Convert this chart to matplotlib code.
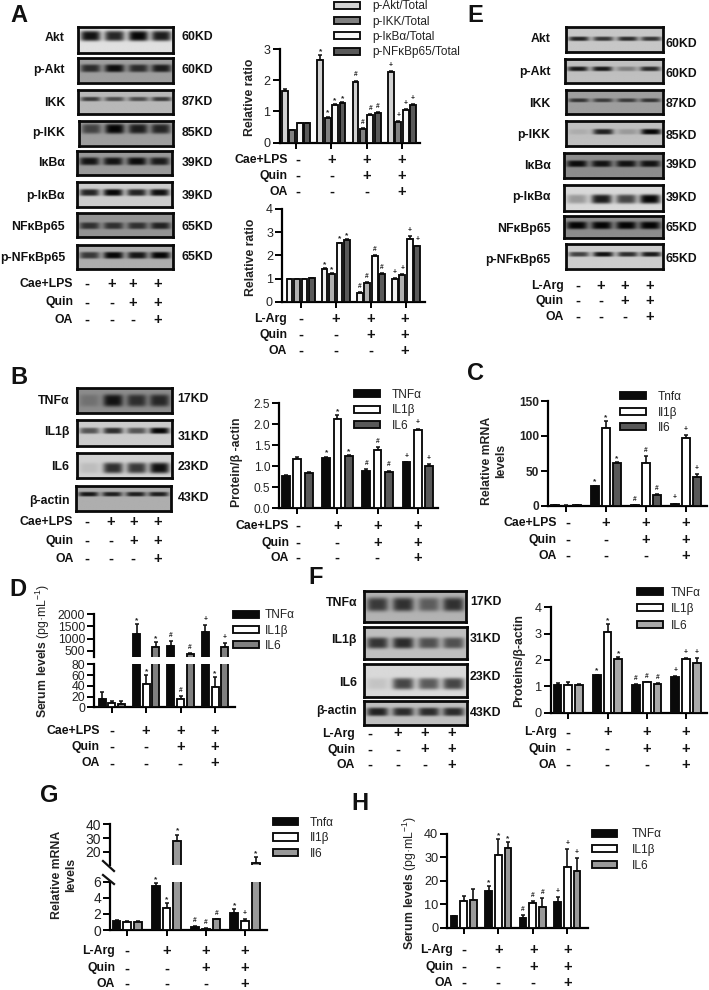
import numpy as np
import matplotlib
matplotlib.use("Agg")
import matplotlib.pyplot as plt
from matplotlib.lines import Line2D

plt.rcParams['font.family'] = ['Liberation Sans', 'DejaVu Sans']
plt.rcParams['mathtext.fontset'] = 'custom'
plt.rcParams['mathtext.rm'] = 'Liberation Sans'
plt.rcParams['mathtext.bf'] = 'Liberation Sans:bold'
plt.rcParams['mathtext.default'] = 'regular'
plt.rcParams['axes.linewidth'] = 1.5

W, H = 709, 990

# ---------------- treatment rows
STATE_1 = [0, 1, 1, 1]
STATE_2 = [0, 0, 1, 1]
STATE_3 = [0, 0, 0, 1]
CAE = ["Cae+LPS", "Quin", "OA"]
ARG = ["L-Arg", "Quin", "OA"]

# ---------------- panel A top
A1_LABELS = ["p-Akt/Total", "p-IKK/Total", "p-IκBα/Total", "p-NFκBp65/Total"]
A1_V = [[1.65, 2.65, 1.95, 2.25], [0.40, 0.80, 0.45, 0.65], [0.63, 1.22, 0.90, 1.05], [0.63, 1.28, 0.95, 1.20]]
A1_E = [[0.08, 0.15, 0.04, 0.05], [0.02, 0.03, 0.02, 0.03], [0.01, 0.02, 0.03, 0.03], [0.01, 0.02, 0.02, 0.03]]
A1_M = ["    ", "****", "####", "++++"]
# ---------------- panel A bottom
A2_V = [[1.00, 1.43, 0.40, 1.00], [1.00, 1.22, 0.83, 1.18], [1.00, 2.52, 1.98, 2.70], [1.02, 2.65, 1.22, 2.40]]
A2_E = [[0.01, 0.03, 0.03, 0.05], [0.01, 0.03, 0.03, 0.03], [0.01, 0.03, 0.04, 0.15], [0.01, 0.04, 0.03, 0.03]]
A2_M = ["    ", "****", "####", "++++"]
# ---------------- panel B
B_LABELS = ["TNFα", "IL1β", "IL6"]
B_V = [[0.78, 1.20, 0.90, 1.10], [1.18, 2.12, 1.40, 1.87], [0.84, 1.25, 0.87, 1.00]]
B_E = [[0.02, 0.03, 0.03, 0.01], [0.04, 0.09, 0.07, 0.03], [0.03, 0.02, 0.03, 0.05]]
B_M = ["   ", "***", "###", "+++"]
# ---------------- panel C
C_LABELS = ["Tnfα", "Il1β", "Il6"]
C_V = [[1.0, 28, 1.5, 3], [0.7, 111, 61, 97], [1.0, 61, 15, 41]]
C_E = [[0.2, 1, 0.3, 0.5], [0.2, 10, 10, 5], [0.2, 2, 2, 4]]
C_M = ["   ", "***", "###", "+++"]
# ---------------- panel D
D_V = [[16, 1200, 680, 1270], [8, 43, 16, 38], [6, 650, 380, 640]]
D_E = [[12, 400, 200, 300], [4, 17, 5, 18], [5, 200, 40, 190]]
D_M = ["   ", "***", "###", "+*+"]
# ---------------- panel F
F_V = [[1.07, 1.43, 1.05, 1.37], [1.07, 3.07, 1.15, 2.05], [1.07, 2.05, 1.10, 1.87]]
F_E = [[0.04, 0.01, 0.05, 0.03], [0.08, 0.30, 0.02, 0.02], [0.03, 0.05, 0.03, 0.22]]
F_M = ["   ", "***", "###", "+++"]
# ---------------- panel G
G_V = [[1.10, 5.5, 0.35, 2.05], [1.05, 2.7, 0.15, 1.15], [1.05, 27.5, 1.35, 12.0]]
G_E = [[0.15, 0.3, 0.10, 0.50], [0.10, 0.6, 0.05, 0.25], [0.08, 5.0, 0.05, 3.9]]
G_M = ["   ", "***", "###", "*+*"]
# ---------------- panel H
H_V = [[5.0, 15.8, 4.0, 10.8], [11.5, 31.2, 10.5, 26.0], [11.7, 34.0, 8.7, 24.3]]
H_E = [[0.2, 2.0, 1.5, 2.2], [2.0, 6.5, 0.8, 7.5], [5.0, 2.5, 3.8, 5.5]]
H_M = ["   ", "***", "###", "+++"]

# ---------------- blots: name, background grey, band strength per lane, band vertical position, band thickness
BLOT_A = [("Akt", 0.88, [.95, .85, 1, .9], .38, .20), ("p-Akt", 0.62, [.75, .95, .75, .85], .45, .16),
          ("IKK", 0.72, [.70, .60, .60, .70], .40, .09), ("p-IKK", 0.62, [.6, 1, .85, .8], .35, .20),
          ("IκBα", 0.60, [.9, .9, .95, .85], .45, .16), ("p-IκBα", 0.80, [.85, 1, .85, .95], .42, .14),
          ("NFκBp65", 0.58, [.7, .7, .7, .8], .55, .14), ("p-NFκBp65", 0.68, [.7, 1, .9, 1], .45, .14)]
BLOT_B = [("TNFα", 0.55, [.2, .9, .7, .75], .5, .25), ("IL1β", 0.80, [.6, .8, .6, 1], .45, .12),
          ("IL6", 0.82, [.1, .8, .75, .95], .6, .22), ("β-actin", 0.68, [.9, .85, .85, .85], .35, .09)]
BLOT_E = [("Akt", 0.78, [.85, .75, .8, .75], .47, .09), ("p-Akt", 0.75, [.9, .9, .35, .8], .45, .10),
          ("IKK", 0.62, [.7, .65, .65, .7], .45, .08), ("p-IKK", 0.75, [.1, .85, .2, 1], .45, .11),
          ("IκBα", 0.55, [.95, .9, .9, .9], .45, .13), ("p-IκBα", 0.85, [.3, .9, .7, 1], .58, .18),
          ("NFκBp65", 0.55, [1, 1, 1, 1], .45, .17), ("p-NFκBp65", 0.80, [.7, .95, .8, .9], .45, .10)]
BLOT_F = [("TNFα", 0.70, [.7, .75, .5, .75], .45, .22), ("IL1β", 0.75, [.75, .8, .6, .6], .5, .18),
          ("IL6", 0.85, [.1, .7, .6, .7], .6, .18), ("β-actin", 0.75, [.85, .8, .8, .8], .45, .18)]

fig = plt.figure(figsize=(W / 100, H / 100), dpi=100, facecolor='white')
ov = fig.add_axes([0, 0, 1, 1], zorder=10)
ov.set_xlim(0, W); ov.set_ylim(H, 0); ov.axis('off'); ov.patch.set_alpha(0)


def ax_px(l, t, r, b, **kw):
    return fig.add_axes([l / W, 1 - b / H, (r - l) / W, (b - t) / H], **kw)


def txt(x, y, s, size=8.8, weight='bold', ha='right', va='center', **kw):
    return ov.text(x, y, s, fontsize=size, fontweight=weight, ha=ha, va=va, color='#111111', **kw)


def rows(labels, xr, ys, xs):
    for lab, y, st in zip(labels, ys, [STATE_1, STATE_2, STATE_3]):
        txt(xr, y, lab)
        for x, v in zip(xs, st):
            txt(x, y, '+' if v else '-', size=10.5, ha='center')


def blot(l, t, r, b, spec):
    name, bg, strengths, yc, thick = spec
    yy, xx = np.mgrid[0:1:60j, 0:1:200j]
    img = np.full_like(xx, bg)
    for xc, s in zip([.13, .38, .63, .87], strengths):
        band = s * np.exp(-((yy - yc) / thick) ** 4) * np.exp(-((xx - xc) / .105) ** 4)
        img = img * (1 - band * .97)
    a = ax_px(l, t, r, b)
    a.imshow(img, cmap='gray', vmin=0, vmax=1, aspect='auto', extent=(0, 1, 1, 0), interpolation='bilinear')
    a.set_xticks([]); a.set_yticks([])
    for s in a.spines.values():
        s.set_linewidth(2.0); s.set_color('#0a0a0a')


def blots(specs, boxes, xr, ly, xk, ky):
    for sp, box, y1, y2, kd in zip(specs, boxes, ly, ky, KDS[id(specs)]):
        blot(*box, sp)
        txt(xr, y1, sp[0])
        txt(xk, y2, kd, ha='left')


def style(a, yticks, ticklab_size, weight='normal', xticks=None, bottom=True):
    for s in ['top', 'right']:
        a.spines[s].set_visible(False)
    a.spines['left'].set_linewidth(1.6)
    a.spines['bottom'].set_linewidth(1.6)
    if not bottom:
        a.spines['bottom'].set_visible(False)
    a.set_yticks(yticks)
    a.tick_params(axis='y', length=5, width=1.4, labelsize=ticklab_size, pad=1.5, labelcolor='#222222')
    for lb in a.get_yticklabels():
        lb.set_fontweight(weight)
    if xticks is not None and bottom:
        a.set_xticks(xticks)
        a.set_xticklabels([])
        a.tick_params(axis='x', length=4.5, width=1.4)
    else:
        a.set_xticks([])
    a.patch.set_alpha(0)


def draw_bars(a, vals, errs, marks, colors, offs, wid):
    bars = []
    n = len(vals)
    g = np.arange(len(vals[0]))
    for j in range(n):
        x = g + offs[j]
        v = np.array(vals[j], float)
        e = np.array(errs[j], float)
        a.errorbar(x, v, yerr=[np.zeros_like(e), e], fmt='none', ecolor='#111111', elinewidth=1.2,
                   capsize=1.6, capthick=1.1, zorder=2)
        bc = a.bar(x, v, wid, color=colors[j], edgecolor='#0a0a0a', linewidth=1.35, zorder=3)
        bars.append(bc)
    return bars


def add_marks(a, vals, errs, marks, offs, only=None):
    for i, m in enumerate(marks):
        for j, ch in enumerate(m):
            if ch == ' ':
                continue
            top = vals[j][i] + errs[j][i]
            if only is not None and not only(top):
                continue
            dy = 4.0 if ch != '*' else 2.6
            size = 6.0 if ch == '*' else 4.8
            a.annotate(ch, (i + offs[j], top), xytext=(0, dy), textcoords='offset points', ha='center',
                       va='center', fontsize=size, fontweight='bold', color='#222222', zorder=5,
                       annotation_clip=False)


def geom(spine, xright, t0, t3, n, pitch, width):
    P = (t3 - t0) / 3
    xlim = (-(t0 - spine) / P, (xright - t0) / P)
    offs = [(j - (n - 1) / 2) * pitch / P for j in range(n)]
    return xlim, offs, width / P


def legend(a, bars, labels, xs, y0, pitch, xt, fs=8.6):
    hl = 25.5 / (fs / .72)
    lg = a.legend([b for b in bars], labels, loc='upper left',
                  bbox_to_anchor=(xs, y0 - 5.6), bbox_transform=ov.transData, frameon=False, fontsize=fs,
                  borderpad=0, borderaxespad=0, handlelength=hl, handleheight=0.55,
                  handletextpad=(xt - xs - 25.5) / (fs / .72),
                  labelspacing=(pitch - fs / .72 * .82) / (fs / .72), labelcolor='#222222')
    lg.set_zorder(20)
    return lg


def chart(spine, top, bottom, xright, t0, t3, pitch, width, ymax, yticks, vals, errs, marks, colors,
          tsize=8.8, tweight='normal', ymin=0):
    xlim, offs, w = geom(spine, xright, t0, t3, len(vals), pitch, width)
    a = ax_px(spine, top, xright, bottom)
    a.set_xlim(*xlim); a.set_ylim(ymin, ymax)
    bars = draw_bars(a, vals, errs, marks, colors, offs, w)
    add_marks(a, vals, errs, marks, offs)
    style(a, yticks, tsize, tweight, xticks=[0, 1, 2, 3])
    return a, bars


def ylabel(x, y, s, size=8.8, weight='bold'):
    ov.text(x, y, s, rotation=90, fontsize=size, fontweight=weight, ha='center', va='center',
            color='#222222', linespacing=1.25, multialignment='center')


KDS = {}
# ======== Panel letters
for s, x, y in [("A", 10, 15), ("B", 10, 377), ("C", 467, 374), ("D", 9, 589), ("E", 467, 15),
                ("F", 308, 578), ("G", 40, 795), ("H", 351, 803)]:
    txt(x, y, s, size=17, ha='left')

# ======== A blots
KDS[id(BLOT_A)] = ["60KD", "60KD", "87KD", "85KD", "39KD", "39KD", "65KD", "65KD"]
blots(BLOT_A, [(77.5, 27.5, 173, 52.5), (77.5, 58, 173, 82.5), (77.5, 89.5, 173, 114), (78.5, 120.5, 172.5, 145.5),
               (76.5, 150.5, 171.5, 175), (77, 182, 171.5, 206.5), (77, 213, 172.5, 237), (76.5, 245, 172.5, 269)],
      65, [x / 3 for x in (113, 210, 308, 400, 490, 587, 680, 775)], 181.5,
      [x / 3 for x in (110, 210, 307, 400, 488, 587, 680, 770)])
rows(CAE, 73, [284, 302.5, 320], [87, 111.5, 133, 158])

a, bars = chart(279.5, 49, 142.7, 420, 296, 402, 7.4, 5.8, 3, [0, 1, 2, 3], A1_V, A1_E, A1_M,
                ['#d2d2d2', '#808080', '#f7f7f7', '#5a5a5a'], tsize=9)
legend(a, bars, A1_LABELS, 334, 6, 13, 372, fs=8.5)
ylabel(250, 97, "Relative ratio")
rows(CAE, 288, [160, 175.7, 191.7], [298, 332, 367, 402])

a, bars = chart(282, 209, 302, 425, 300.7, 406, 7.5, 5.8, 4, [0, 1, 2, 3, 4], A2_V, A2_E, A2_M,
                ['#f0f0f0', '#b0b0b0', '#fbfbfb', '#5a5a5a'], tsize=9)
ylabel(251, 257, "Relative ratio")
rows(ARG, 287, [319, 335, 351], [301, 336, 371, 405])

# ======== B
KDS[id(BLOT_B)] = ["17KD", "31KD", "23KD", "43KD"]
blots(BLOT_B, [(76.5, 388, 171.5, 412.5), (77, 420.5, 171.5, 445.5), (76.5, 453, 171.5, 478), (75.5, 485.5, 170.5, 510.5)],
      69.5, [365 + x / 3 for x in (108, 200, 305, 408)], 177.5, [365 + x / 3 for x in (103, 215, 305, 398)])
rows(CAE, 73.5, [521.7, 541, 559], [87.3, 110.7, 133.3, 157.3])

a, bars = chart(279.3, 403.3, 508.3, 438, 297.3, 417.7, 11.3, 7.8, 2.5, [0, .5, 1, 1.5, 2, 2.5], B_V, B_E, B_M,
                ['#0a0a0a', '#ffffff', '#585858'], tsize=8.6)
a.set_yticklabels(["0.0", "0.5", "1.0", "1.5", "2.0", "2.5"])
legend(a, bars, B_LABELS, 354, 394.3, 13.5, 392)
ylabel(237, 462.5, "Protein/β -actin")
rows(CAE, 289, [526, 542.7, 558], [298, 337.3, 377.3, 417.7])

# ======== C
a, bars = chart(548.3, 401, 506, 706.7, 565.7, 686, 11, 7.8, 150, [0, 50, 100, 150], C_V, C_E, C_M,
                ['#0a0a0a', '#ffffff', '#585858'], tsize=8.6, tweight='bold')
legend(a, bars, C_LABELS, 620, 396.7, 13.3, 658)
ylabel(494, 461, "Relative mRNA\nlevels")
rows(CAE, 556.7, [523, 540, 555.7], [567.7, 605.7, 646, 686])

# ======== D (broken axis)
xlim, offs, w = geom(94.3, 235, 111.7, 215, 3, 9.6, 7)
D_COL = ['#0a0a0a', '#ffffff', '#808080']
up = ax_px(94.3, 614.3, 235, 657.3)
up.set_xlim(*xlim); up.set_ylim(228, 2000)
draw_bars(up, D_V, D_E, D_M, D_COL, offs, w)
add_marks(up, D_V, D_E, D_M, offs, only=lambda t: t > 228)
style(up, [500, 1000, 1500, 2000], 8.8, bottom=False)
lo = ax_px(94.3, 664.3, 235, 707.3)
lo.set_xlim(*xlim); lo.set_ylim(0, 80)
bars = draw_bars(lo, D_V, D_E, D_M, D_COL, offs, w)
add_marks(lo, D_V, D_E, D_M, offs, only=lambda t: t < 80)
style(lo, [0, 20, 40, 60, 80], 8.8, xticks=[0, 1, 2, 3])
legend(lo, bars, B_LABELS, 233, 615, 13, 265)
ylabel(43, 651, r"$\mathbf{Serum\ levels}$ (pg·mL$^{-1}$)", weight='normal')
rows(CAE, 100, [731, 746.7, 763.3], [112, 145.7, 180.3, 215])

# ======== E blots
KDS[id(BLOT_E)] = ["60KD", "60KD", "87KD", "85KD", "39KD", "39KD", "65KD", "65KD"]
blots(BLOT_E, [(565.5, 27, 663, 52), (565, 58.5, 662.5, 82.5), (565.5, 89.5, 662.5, 114), (565.5, 120.5, 663, 146),
               (564, 152.5, 663, 178), (564, 184.5, 663, 210.5), (564, 215.5, 663, 238), (565.5, 243.5, 663, 268.5)],
      550.5, [x / 3 for x in (118, 217, 312, 405, 497, 592, 687, 780)], 666,
      [x / 3 for x in (132, 222, 312, 407, 495, 595, 685, 777)])
rows(ARG, 564, [285.7, 301, 316.7], [578.3, 600.7, 625, 650])

# ======== F
KDS[id(BLOT_F)] = ["17KD", "31KD", "23KD", "43KD"]
blots(BLOT_F, [(363.5, 590.5, 466, 622), (364, 627, 466.5, 659), (363.5, 664, 466.5, 696.5), (363.5, 701, 466.5, 725)],
      357, [603, 640, 683, 711], 470, [602, 639, 677, 713])
rows(ARG, 355, [733.5, 749.5, 765], [370, 398, 425, 452])
a, bars = chart(550.7, 607.3, 712.7, 707.3, 568.3, 686, 10.8, 7.8, 4, [0, 1, 2, 3, 4], F_V, F_E, F_M,
                ['#0a0a0a', '#ffffff', '#aaaaaa'], tsize=9.2)
legend(a, bars, B_LABELS, 637.3, 592.3, 14.2, 671)
ylabel(519.3, 661, "Proteins/β-actin")
rows(ARG, 556.7, [732.3, 749, 765], [568, 607.3, 646.7, 686])

# ======== G (broken axis)
xlim, offs, w = geom(110, 266.7, 127.3, 245, 3, 10.8, 7.8)
G_COL = ['#0a0a0a', '#ffffff', '#999999']
up = ax_px(110, 824.3, 266.7, 865)
up.set_xlim(*xlim); up.set_ylim(10.3, 40)
draw_bars(up, G_V, G_E, G_M, G_COL, offs, w)
add_marks(up, G_V, G_E, G_M, offs, only=lambda t: t > 10.3)
style(up, [20, 30, 40], 10, bottom=False)
lo = ax_px(110, 881.7, 266.7, 930)
lo.set_xlim(*xlim); lo.set_ylim(0, 6)
bars = draw_bars(lo, G_V, G_E, G_M, G_COL, offs, w)
add_marks(lo, G_V, G_E, G_M, offs, only=lambda t: t < 6.5)
style(lo, [0, 2, 4, 6], 10, xticks=[0, 1, 2, 3])
legend(lo, bars, C_LABELS, 272.7, 822.3, 13.4, 310)
for y1, y2 in [(861, 871), (875, 884)]:
    ov.add_line(Line2D([103, 114], [y1, y2], color='#111111', lw=1.6))
ylabel(64, 875, "Relative mRNA\nlevels")
rows(ARG, 115, [951, 968.3, 984], [127, 166.7, 206, 245])

# ======== H
a, bars = chart(447.3, 834, 927.7, 588.3, 463.7, 567.3, 9.7, 6.8, 40, [0, 10, 20, 30, 40], H_V, H_E, H_M,
                ['#0a0a0a', '#ffffff', '#999999'], tsize=9.2)
legend(a, bars, B_LABELS, 591.7, 834, 13.5, 631.7)
ylabel(410, 883, r"$\mathbf{Serum\ levels}$ (pg·mL$^{-1}$)", weight='normal')
rows(ARG, 453.3, [950, 966.7, 982.7], [464, 498.3, 533.3, 567.3])

fig.savefig("out.png", dpi=100, facecolor='white')
